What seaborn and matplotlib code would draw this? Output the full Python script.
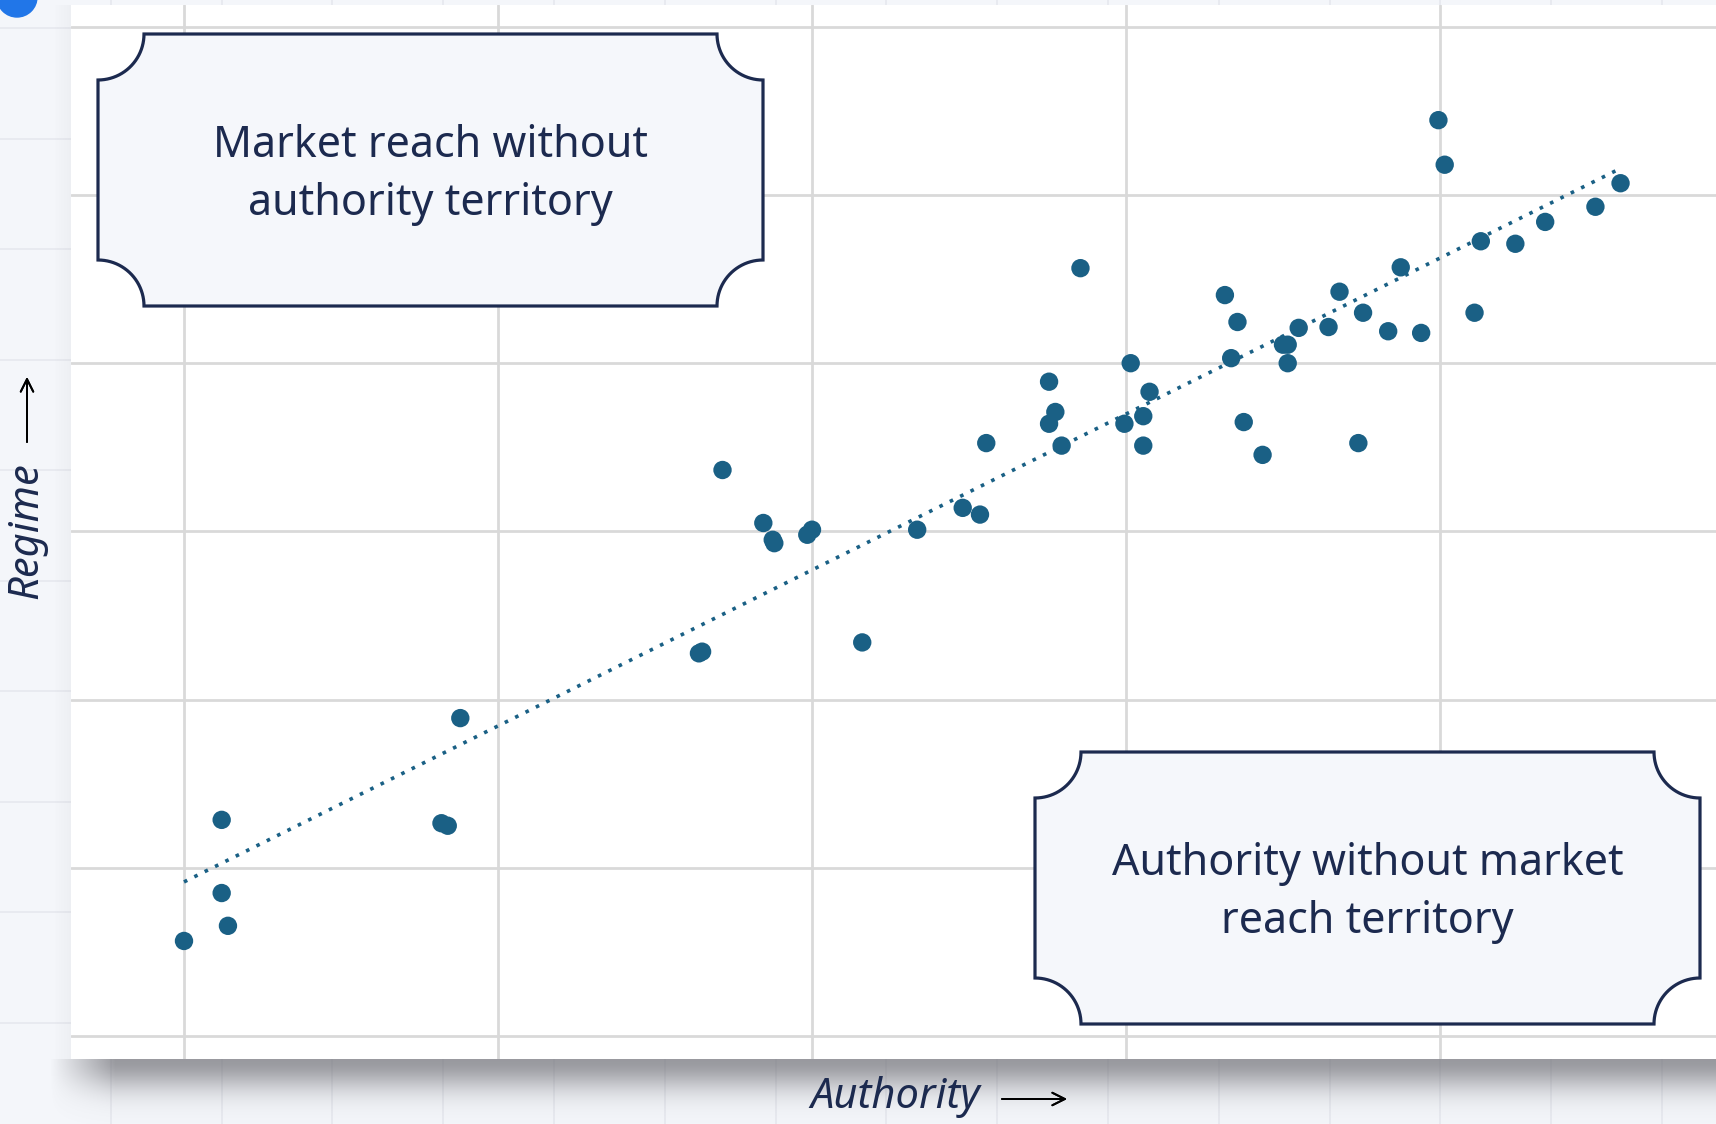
import numpy as np
import pandas as pd
import seaborn as sns
import matplotlib.pyplot as plt
from matplotlib.path import Path
from matplotlib.patches import PathPatch, Circle
from matplotlib.lines import Line2D
from matplotlib import transforms

# authority score (x) and regime score (y) per country
authority = [
    0.000, 0.024, 0.024, 0.028, 0.164, 0.168, 0.176, 0.328, 0.330, 0.343,
    0.369, 0.375, 0.376, 0.397, 0.400, 0.432, 0.467, 0.496, 0.507, 0.511,
    0.551, 0.555, 0.551, 0.559, 0.571, 0.599, 0.603, 0.611, 0.615, 0.611,
    0.663, 0.671, 0.667, 0.675, 0.687, 0.700, 0.703, 0.703, 0.710, 0.729,
    0.736, 0.751, 0.767, 0.788, 0.748, 0.775, 0.822, 0.799, 0.803, 0.826,
    0.848, 0.867, 0.899, 0.915,
]
regime = [
    0.113, 0.257, 0.170, 0.131, 0.253, 0.250, 0.378, 0.455, 0.457, 0.673,
    0.610, 0.590, 0.586, 0.596, 0.602, 0.468, 0.602, 0.628, 0.620, 0.705,
    0.778, 0.742, 0.728, 0.702, 0.913, 0.728, 0.800, 0.737, 0.766, 0.702,
    0.881, 0.849, 0.806, 0.730, 0.691, 0.822, 0.822, 0.800, 0.842, 0.843,
    0.885, 0.860, 0.838, 0.836, 0.705, 0.914, 0.860, 1.089, 1.036, 0.945,
    0.942, 0.968, 0.986, 1.014,
]
x_grid = [0.0, 0.2, 0.4, 0.6, 0.8]
y_grid = [0.0, 0.2, 0.4, 0.6, 0.8, 1.0, 1.2]
quadrant_labels = ["Market reach without\nauthority territory",
                   "Authority without market\nreach territory"]

W, H = 1716, 1124
NAVY = "#1c2a4f"
DOT = "#1a6085"
PAGE = "#f4f6fa"

sns.set_style("whitegrid", {"grid.color": "#d9d9d9"})
plt.rcParams["font.family"] = ["Noto Sans", "DejaVu Sans"]

df = pd.DataFrame({"Authority": authority, "Regime": regime})

fig = plt.figure(figsize=(W / 100, H / 100), dpi=100, facecolor=PAGE)
px = transforms.Affine2D().scale(1 / W, 1 / H) + fig.transFigure


def fy(y):
    return H - y


# page grid behind the card
for gx in np.arange(110.8, W, 110.8):
    fig.add_artist(Line2D([gx, gx], [0, H], transform=px, color="#e6e8ee",
                          lw=1.2, zorder=-5))
for gy in np.arange(28, H, 110.5):
    fig.add_artist(Line2D([0, W], [fy(gy), fy(gy)], transform=px,
                          color="#e6e8ee", lw=1.2, zorder=-5))

# drop shadow under the card
sh_x0, sh_y0, sh_h = 40, 1059, H - 1059
sh_w = W - sh_x0
d = np.arange(sh_h)[:, None]
xx = np.arange(sh_w)[None, :] + sh_x0
alpha = 0.68 * np.exp(-(d / 30.0) ** 2) * np.clip((xx - 50) / 65.0, 0, 1)
shadow = np.zeros((sh_h, sh_w, 4))
shadow[..., 0] = 110 / 255
shadow[..., 1] = 110 / 255
shadow[..., 2] = 116 / 255
shadow[..., 3] = alpha
fig.figimage(shadow, xo=sh_x0, yo=0, origin="upper", zorder=-4)
lx = np.arange(18)[None, :]
left = np.zeros((1059 - 5, 18, 4))
left[..., :3] = 0.45
left[..., 3] = 0.05 * (lx / 17.0)
fig.figimage(left, xo=53, yo=H - 1059, origin="upper", zorder=-4)

# chart card
ax = fig.add_axes([71 / W, (H - 1059) / H, (W - 71) / W, (1059 - 5) / H])
ax.set_facecolor("white")

sns.regplot(data=df, x="Authority", y="Regime", ax=ax, scatter=False,
            ci=None, color=DOT,
            line_kws={"linestyle": (0, (1, 2.2)), "linewidth": 2.6})
sns.scatterplot(data=df, x="Authority", y="Regime", ax=ax, s=175,
                color=DOT, edgecolor="none", zorder=3)

ax.set_xlim(-0.07197, 0.9758)
ax.set_ylim(-0.02735, 1.22592)
ax.set_xticks(x_grid)
ax.set_yticks(y_grid)
ax.grid(True, color="#d9d9d9", linewidth=2)
ax.tick_params(length=0, labelbottom=False, labelleft=False)
ax.set_xlabel("")
ax.set_ylabel("")
for s in ax.spines.values():
    s.set_visible(False)


def ticket_box(L, T, R, B, r=46, n=24):
    pts = []
    for cx, cy, a0, a1 in [(R, T, 180, 90), (R, B, 270, 180),
                           (L, B, 360, 270), (L, T, 90, 0)]:
        th = np.radians(np.linspace(a0, a1, n))
        for t in th:
            pts.append((cx + r * np.cos(t), fy(cy + r * np.sin(t))))
    pts.append(pts[0])
    codes = [Path.MOVETO] + [Path.LINETO] * (len(pts) - 2) + [Path.CLOSEPOLY]
    return PathPatch(Path(pts, codes), transform=px, facecolor="#f5f7fb",
                     edgecolor=NAVY, lw=2.3, zorder=5)


boxes = [(98, 34, 763, 306), (1035, 752, 1700, 1024)]
for (L, T, R, B), label in zip(boxes, quadrant_labels):
    fig.add_artist(ticket_box(L, T, R, B))
    fig.text((L + R) / 2 / W, fy((T + B) / 2 + 5) / H, label, ha="center",
             va="center", multialignment="center", fontsize=31,
             color=NAVY, linespacing=1.45, zorder=6)

# axis titles with arrows
fig.text(895 / W, fy(1097) / H, "Authority", ha="center", va="center",
         fontsize=30, style="italic", color=NAVY)
fig.text(26 / W, fy(531) / H, "Regime", ha="center", va="center",
         fontsize=30, style="italic", color=NAVY, rotation=90)
arrow = dict(arrowstyle="->,head_length=0.9,head_width=0.45", lw=1.4,
             color="black", shrinkA=0, shrinkB=0)
fig.add_artist(plt.annotate("", xy=(1067 / W, fy(1099) / H),
                            xytext=(1002 / W, fy(1099) / H),
                            xycoords="figure fraction",
                            arrowprops=arrow))
fig.add_artist(plt.annotate("", xy=(27 / W, fy(377) / H),
                            xytext=(27 / W, fy(442) / H),
                            xycoords="figure fraction",
                            arrowprops=arrow))

# UI dot in the corner
fig.add_artist(Circle((17, fy(-3)), 20, transform=px, color="#2176e8",
                      zorder=7))

plt.savefig("out.png", dpi=100, facecolor=PAGE)
plt.close()
